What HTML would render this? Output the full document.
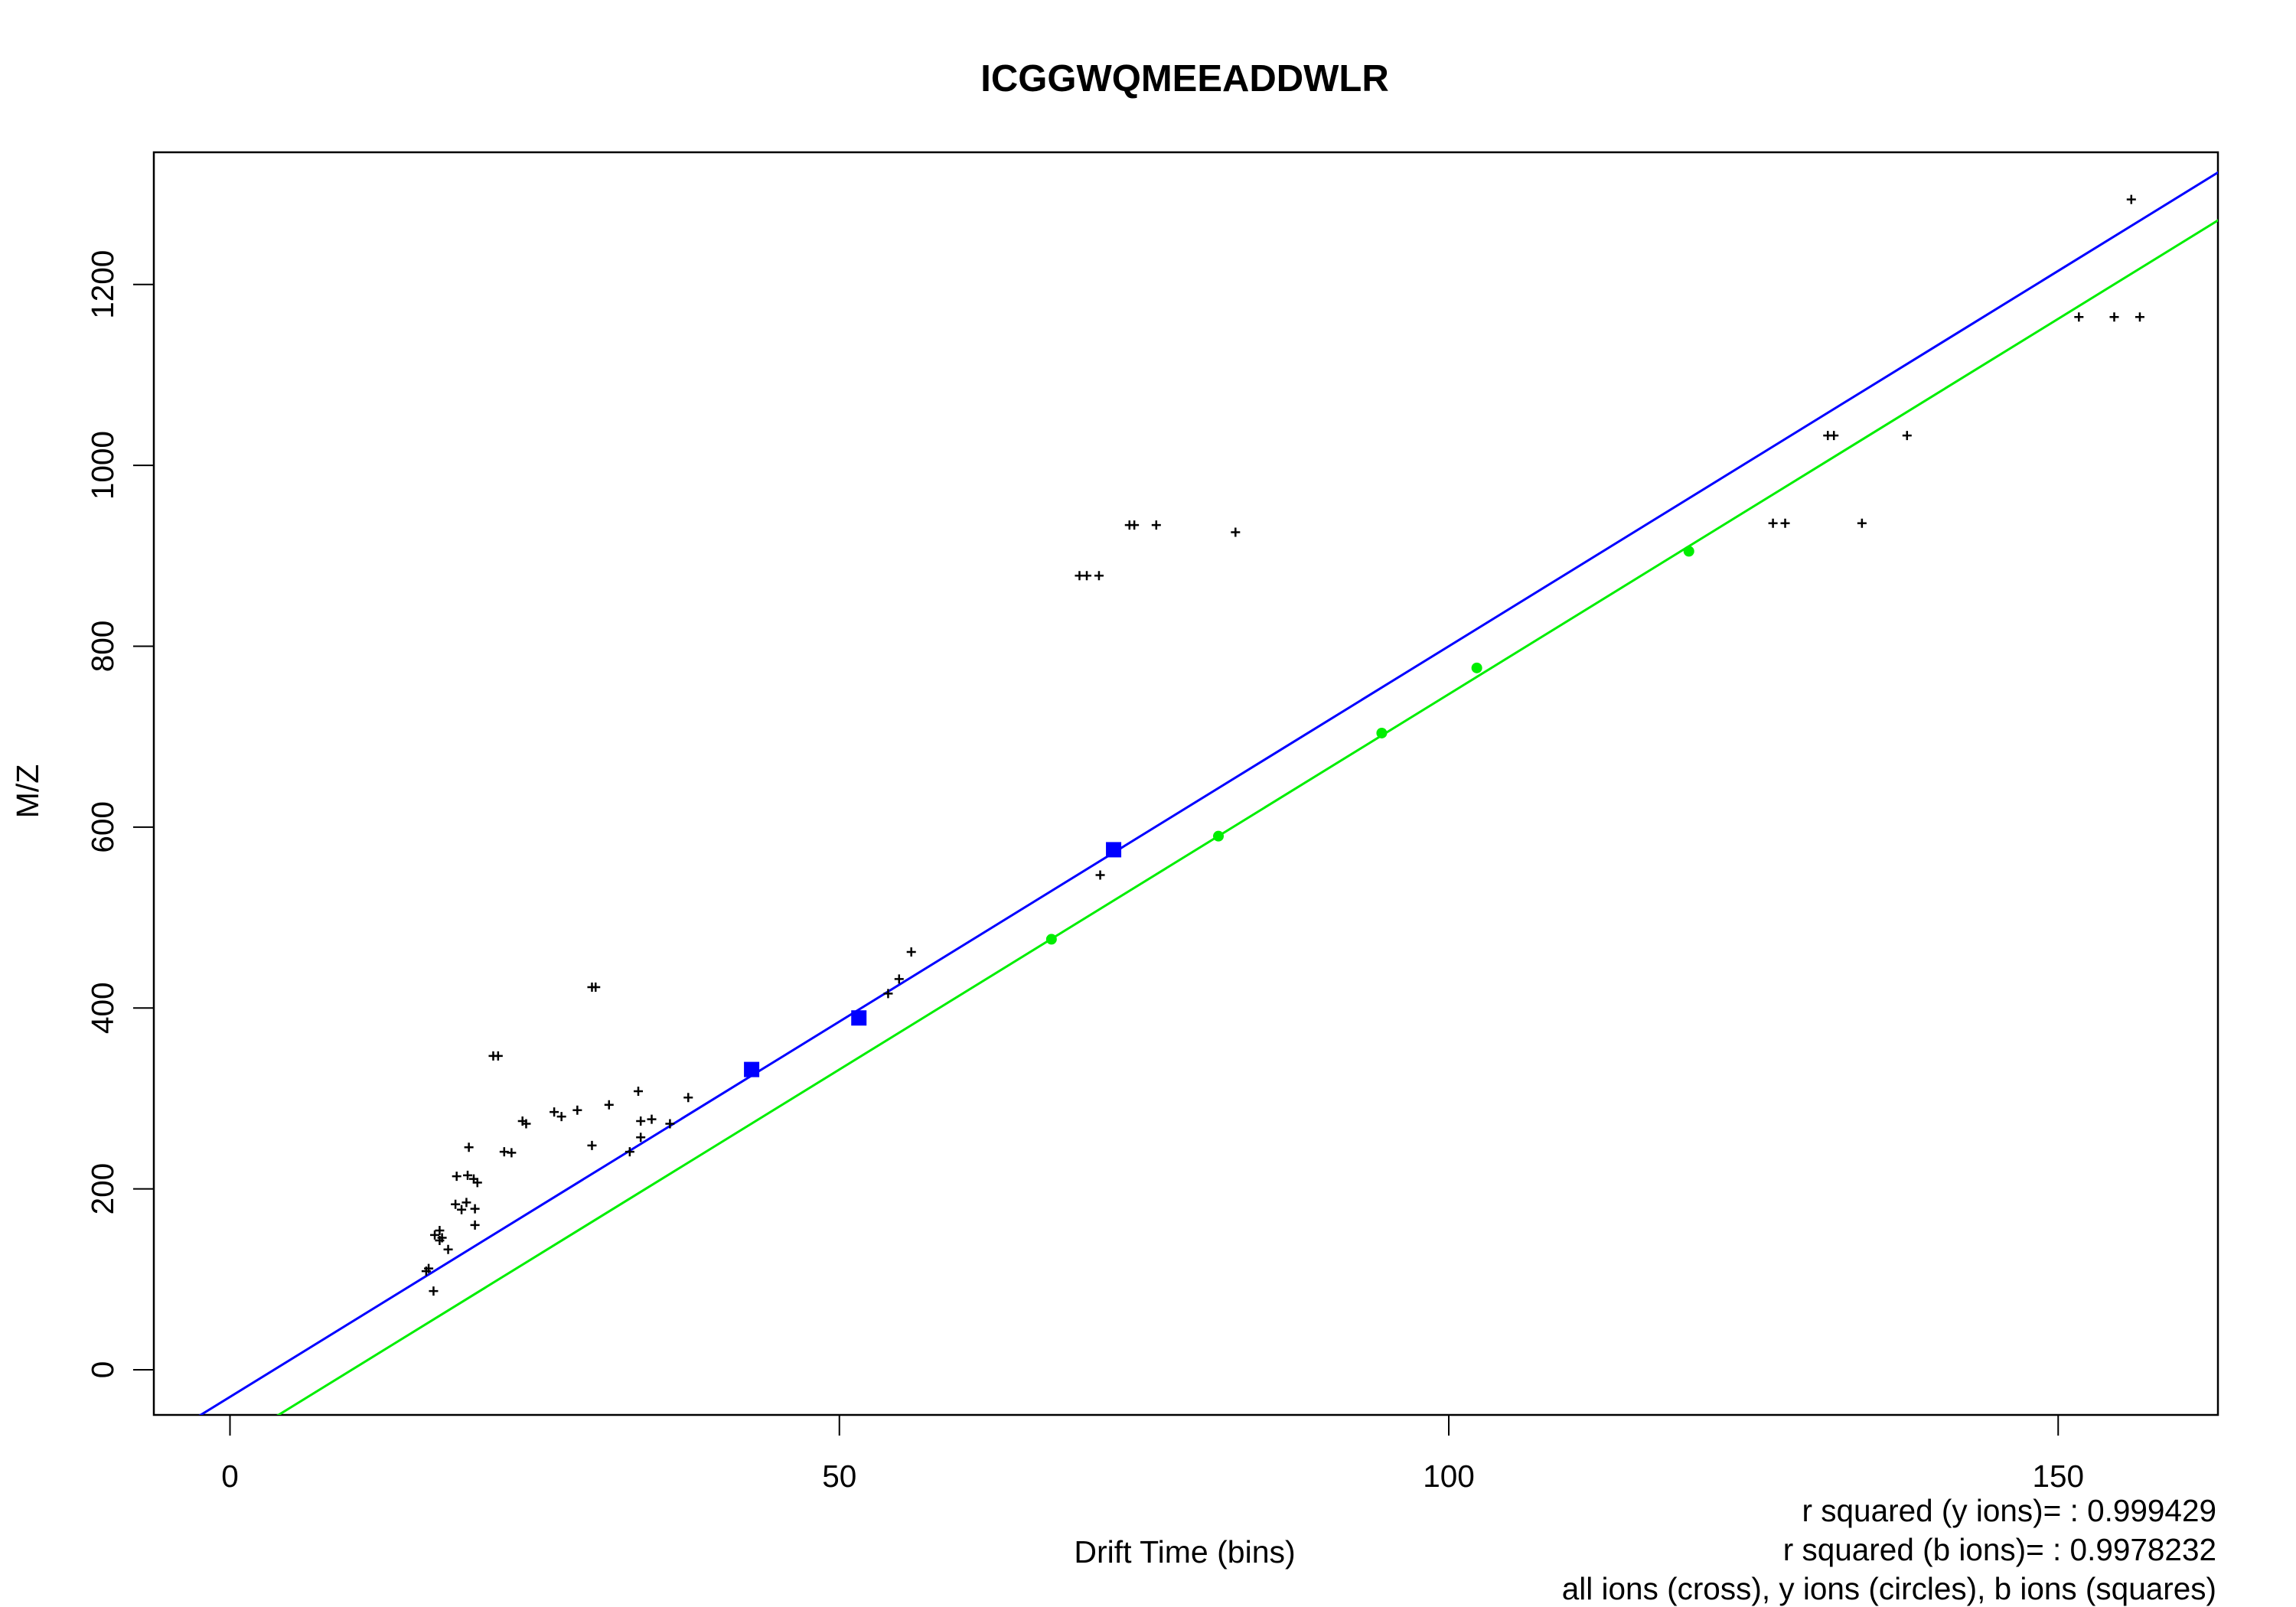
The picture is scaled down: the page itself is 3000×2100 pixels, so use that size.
<!DOCTYPE html>
<html><head><meta charset="utf-8"><style>
html,body{margin:0;padding:0;background:#fff;}
svg{display:block;font-family:"Liberation Sans",Arial,sans-serif;}
</style></head><body>
<svg id="chart" width="3000" height="2100" viewBox="0 0 3000 2100" xmlns="http://www.w3.org/2000/svg">
<defs><clipPath id="plotclip"><rect x="201" y="199" width="2697" height="1650"/></clipPath></defs>
<rect x="0" y="0" width="3000" height="2100" fill="#fff"/>
<text x="1548" y="119" font-size="49" font-weight="bold" text-anchor="middle">ICGGWQMEEADDWLR</text>
<rect x="201" y="199" width="2697" height="1650" fill="none" stroke="#000" stroke-width="2.5"/>
<g id="xaxis"></g>
<g id="yaxis"></g>
<text x="1548" y="2042" font-size="41" text-anchor="middle">Drift Time (bins)</text>
<text x="50" y="1034" font-size="41" text-anchor="middle" transform="rotate(-90 50 1034)">M/Z</text>
<g id="marks" clip-path="url(#plotclip)"></g>
<text x="2896" y="1988" font-size="40.5" text-anchor="end">r squared (y ions)= : 0.999429</text>
<text x="2896" y="2039" font-size="40.5" text-anchor="end">r squared (b ions)= : 0.9978232</text>
<text x="2896" y="2090" font-size="40.5" text-anchor="end">all ions (cross), y ions (circles), b ions (squares)</text>
</svg>
<script>
const xTicks = [0, 50, 100, 150];
const yTicks = [0, 200, 400, 600, 800, 1000, 1200];
const bX = [42.8, 51.6, 72.5];
const bY = [332, 389, 575];
const yIonX = [67.4, 81.1, 94.5, 102.3, 119.7];
const yIonY = [476, 590, 704, 776, 905];
const allX = [156.0,151.7,154.6,156.7,131.1,131.6,137.6,126.6,127.6,133.9,73.8,74.2,76.0,82.5,69.7,70.3,71.3,71.4,55.9,54.9,54.0,29.7,30.0,21.6,22.0,37.6,33.5,36.1,34.6,33.7,31.1,28.5,26.6,27.2,24.0,24.3,22.5,23.1,29.7,32.8,33.7,19.6,18.6,19.5,20.0,20.3,20.1,18.5,19.0,19.4,20.1,17.9,17.2,17.4,16.8,17.2,16.3,16.1,16.7];
const allY = [1294,1164,1164,1164,1033,1033,1033,936,936,936,934,934,934,926,878,878,878,547,462,432,416,423,423,347,347,301,308,272,277,275,293,287,285,280,275,272,241,240,248,241,257,246,214,215,211,207,178,183,177,185,160,133,154,146,149,143,112,109,87];
const bFit = [8.30, -30];
const yFit = [8.30, -83];
const xDomain = [-8, 170];

const NS = "http://www.w3.org/2000/svg";
const X = v => 300.5 + v * 15.925;
const Y = v => 1790 - v * 1.1819;
function mk(tag, attrs, parent){const e=document.createElementNS(NS,tag);for(const k in attrs)e.setAttribute(k,attrs[k]);parent.appendChild(e);return e;}

const xa=document.getElementById('xaxis');
xTicks.forEach(t=>{
  const l=mk('line',{x1:X(t),x2:X(t),y1:1849,y2:1876,stroke:'#000','stroke-width':2},xa);
  
  
  const tx=mk('text',{x:X(t),y:1943,'font-size':40.5,'text-anchor':'middle'},xa);
  tx.textContent=t;
  
  
});
const ya=document.getElementById('yaxis');
yTicks.forEach(t=>{
  const l=mk('line',{x1:174,x2:201,y1:Y(t),y2:Y(t),stroke:'#000','stroke-width':2},ya);
  
  
  const tx=mk('text',{x:148,y:Y(t),'font-size':40.5,'text-anchor':'middle',transform:`rotate(-90 148 ${Y(t)})`},ya);
  tx.textContent=t;
  
  
});
const m=document.getElementById('marks');
function fitLine(f,color,name){
  const l=mk('line',{x1:X(xDomain[0]),y1:Y(f[0]*xDomain[0]+f[1]),x2:X(xDomain[1]),y2:Y(f[0]*xDomain[1]+f[1]),stroke:color,'stroke-width':3},m);
  
  
}
fitLine(bFit,'#0000ff','b-ion-fit-line');
fitLine(yFit,'#00ee00','y-ion-fit-line');
allX.forEach((v,i)=>{
  const cx=X(v),cy=Y(allY[i]);
  const p=mk('path',{d:`M${cx-6},${cy}H${cx+6}M${cx},${cy-6}V${cy+6}`,stroke:'#000','stroke-width':2.5},m);
  
  
});
yIonX.forEach((v,i)=>{
  const c=mk('circle',{cx:X(v),cy:Y(yIonY[i]),r:7,fill:'#00ee00'},m);
  
  
});
bX.forEach((v,i)=>{
  const r=mk('rect',{x:X(v)-10,y:Y(bY[i])-10,width:20,height:20,fill:'#0000ff'},m);
  
  
});
</script>
</body></html>
